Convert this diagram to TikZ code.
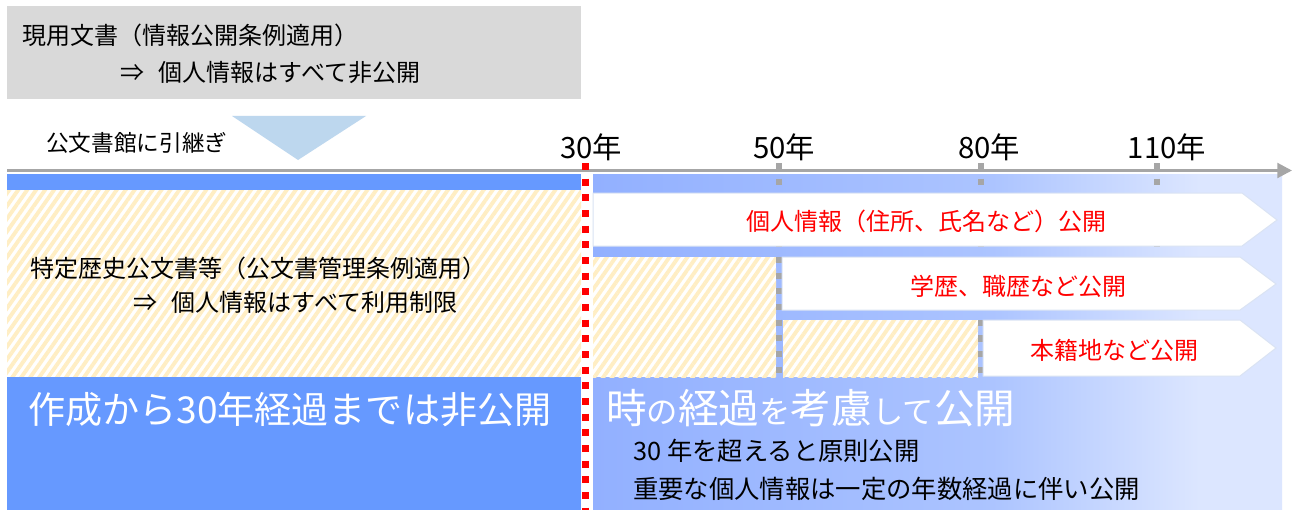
\documentclass[tikz,border=0pt]{standalone}
\usepackage{fontspec}
\setmainfont{Noto Sans CJK JP}
\usetikzlibrary{arrows.meta,patterns.meta}
\definecolor{boxgray}{RGB}{217,217,217}
\definecolor{triblue}{RGB}{189,215,238}
\definecolor{axisgray}{RGB}{166,166,166}
\definecolor{midblue}{RGB}{102,153,255}
\definecolor{hatchy}{RGB}{255,238,196}
\definecolor{gA}{RGB}{146,176,255}
\definecolor{gB}{RGB}{172,196,255}
\definecolor{gC}{RGB}{220,230,255}
\definecolor{arrowedge}{RGB}{218,227,243}
\definecolor{redtxt}{RGB}{255,0,0}
\pgfdeclarehorizontalshading{rgrad}{100bp}{color(0bp)=(gA); color(25bp)=(gA); color(54bp)=(gB); color(69bp)=(gC); color(100bp)=(gC)}
\newcommand\jbigc[1]{{\fontsize{30.5pt}{30pt}\selectfont #1}}
\newcommand\jsmallc[1]{{\fontsize{23.5pt}{23pt}\selectfont #1}}
\tikzset{
  hatchfill/.style={preaction={fill=white}, pattern={Lines[angle=55,distance=5.5pt,line width=2.9pt]}, pattern color=hatchy},
  arrowbox/.style={fill=white, draw=arrowedge, line width=0.75pt},
  reddots/.style={draw=red, line width=5.25pt, dash pattern=on 5.25pt off 6.5pt},
  graydots/.style={draw=axisgray, line width=4.5pt, dash pattern=on 4.5pt off 7.25pt},
  txt/.style={inner sep=0pt, anchor=west, font=\fontsize{18pt}{20pt}\selectfont, text=black},
  redlabel/.style={inner sep=0pt, font=\fontsize{18pt}{20pt}\selectfont, text=redtxt},
  ticklabel/.style={inner sep=0pt, font=\fontsize{22pt}{24pt}\selectfont, text=black},
}
\begin{document}
\begin{tikzpicture}[x=0.75pt,y=-0.75pt]
\useasboundingbox (0,0) rectangle (1296,510);
\fill[white] (0,0) rectangle (1296,510);
% top gray box
\fill[boxgray] (7,6) rectangle (581,99);
\node[txt] (cur1) at (22,35) {現用文書（情報公開条例適用）};
\node[txt] (cur2) at (120,73) {⇒\hspace{0.6em}個人情報はすべて非公開};
% transfer triangle
\fill[triblue] (232,116) -- (366,116) -- (298,160) -- cycle;
\node[txt, font=\fontsize{17pt}{19pt}\selectfont] (transfer) at (46,143) {公文書館に引継ぎ};
% left column
\fill[midblue] (7,174) rectangle (581,190);
\fill[hatchfill] (7,190) rectangle (581,377);
\fill[midblue] (7,377) rectangle (581,510);
\node[txt] (spec1) at (30,268) {特定歴史公文書等（公文書管理条例適用）};
\node[txt] (spec2) at (133,302) {⇒\hspace{0.6em}個人情報はすべて利用制限};
\node[txt, text=white, font=\fontsize{27.8pt}{30pt}\selectfont] (closed) at (28,410) {作成から30年経過までは非公開};
% right gradient region
\shade[shading=rgrad, shading angle=0] (593,174) rectangle (1282,510);
% gray dotted year lines
\coordinate (t50) at (779,163); \coordinate (b50) at (779,377);
\coordinate (t80) at (981,163); \coordinate (b80) at (981,377);
\coordinate (t110) at (1157,163); \coordinate (b110) at (1157,330);
\draw[graydots] (t50) -- (b50);
\draw[graydots] (t80) -- (b80);
\draw[graydots] (t110) -- (b110);
% hatched parts on right
\fill[hatchfill] (593,257) rectangle (776,377);
\fill[hatchfill] (783,320) rectangle (978,377);
\draw[graydots] (779,257) -- (b50);
\draw[graydots] (981,320) -- (b80);
% white arrows
\draw[arrowbox] (593,193) -- (1242,193) -- (1277,220) -- (1242,246) -- (593,246) -- cycle;
\draw[arrowbox] (782,257) -- (1240,257) -- (1276,284) -- (1240,310) -- (782,310) -- cycle;
\draw[arrowbox] (983,320) -- (1240,320) -- (1276,348) -- (1240,376) -- (983,376) -- cycle;
\node[redlabel] (open1) at (926,221) {個人情報（住所、氏名など）公開};
\node[redlabel] (open2) at (1018,286) {学歴、職歴など公開};
\node[redlabel] (open3) at (1114,350) {本籍地など公開};
% axis
\coordinate (ax0) at (7,170.5);
\coordinate (ax1) at (1292,170.5);
\draw[axisgray, line width=2.25pt, -{Triangle[length=11pt,width=11pt]}] (ax0) -- (ax1);
\node[ticklabel] (y30) at (591,147) {30年};
\node[ticklabel] (y50) at (784,147) {50年};
\node[ticklabel] (y80) at (989,147) {80年};
\node[ticklabel] (y110) at (1167,147) {110年};
% red dotted 30-year line
\coordinate (r0) at (585.5,163);
\coordinate (r1) at (585.5,510);
\draw[reddots] (r0) -- (r1);
% bottom right texts
\node[txt, text=white] (consider) at (606,408) {\jbigc{時}\jsmallc{の}\jbigc{経過}\jsmallc{を}\jbigc{考慮}\jsmallc{して}\jbigc{公開}};
\node[txt, font=\fontsize{19pt}{21pt}\selectfont] (rule1) at (633,451) {30 年を超えると原則公開};
\node[txt, font=\fontsize{19pt}{21pt}\selectfont] (rule2) at (633,489) {重要な個人情報は一定の年数経過に伴い公開};
\end{tikzpicture}
\end{document}
